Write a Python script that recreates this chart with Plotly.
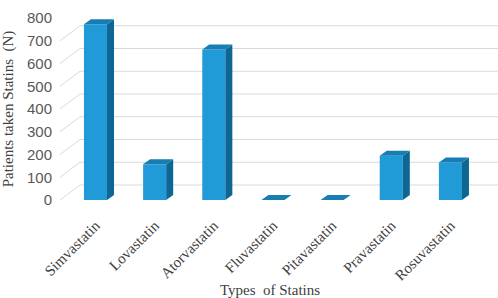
import plotly.graph_objects as go

categories = ["Simvastatin", "Lovastatin", "Atorvastatin", "Fluvastatin",
              "Pitavastatin", "Pravastatin", "Rosuvastatin"]
patients = [773, 157, 662, 0, 0, 195, 165]
y_ticks = [0, 100, 200, 300, 400, 500, 600, 700, 800]

# geometry / style
W, H = 498, 298
ML, MR, MT, MB = 60, 18, 18, 98
XR = [-0.6, 6.5]
YR = [0, 800]
plot_w = W - ML - MR
plot_h = H - MT - MB
px_per_x = plot_w / (XR[1] - XR[0])
px_per_y = plot_h / (YR[1] - YR[0])
BAR_W = 0.39
DX, DY = 7, 5                       # depth offset in pixels
dy_data = DY / px_per_y
bar_px = BAR_W * px_per_x

FRONT = "#209bd8"
SIDE = "#0d6694"
TOP = "#177db3"
GRID = "#d9d9d9"

x_idx = list(range(len(categories)))

fig = go.Figure()
fig.add_trace(go.Bar(
    x=x_idx, y=patients, width=BAR_W,
    marker=dict(color=FRONT, line=dict(width=0)),
    hoverinfo="skip",
))

shapes = []
# perspective gridlines (back wall) + floor diagonals
for t in y_ticks:
    shapes.append(dict(type="line", xref="paper", xsizemode="pixel", xanchor=0,
                       x0=20, x1=460, yref="y", ysizemode="pixel", yanchor=t,
                       y0=15, y1=15, line=dict(color=GRID, width=1), layer="below"))
    shapes.append(dict(type="path", xref="paper", xsizemode="pixel", xanchor=0,
                       yref="y", ysizemode="pixel", yanchor=t,
                       path="M0,0 L20,15", line=dict(color=GRID, width=1), layer="below"))

# 3D faces of bars
for i, v in zip(x_idx, patients):
    shapes.append(dict(
        type="path", xref="x", xsizemode="pixel", xanchor=i + BAR_W / 2, yref="y",
        path=f"M0,0 L0,{v} L{DX},{v + dy_data} L{DX},{dy_data} Z",
        fillcolor=SIDE, line=dict(width=0), layer="above"))
    shapes.append(dict(
        type="path", xref="x", xsizemode="pixel", xanchor=i - BAR_W / 2, yref="y",
        path=(f"M0,{v} L{bar_px:.2f},{v} L{bar_px + DX:.2f},{v + dy_data} "
              f"L{DX},{v + dy_data} Z"),
        fillcolor=TOP, line=dict(width=0), layer="above"))

fig.update_layout(
    width=W, height=H,
    margin=dict(l=ML, r=MR, t=MT, b=MB, pad=0, autoexpand=False),
    paper_bgcolor="white", plot_bgcolor="white",
    showlegend=False,
    shapes=shapes,
    xaxis=dict(
        range=XR, tickmode="array", tickvals=x_idx, ticktext=categories,
        tickangle=-45, showgrid=False, zeroline=False, showline=False,
        automargin=False,
        ticks="outside", ticklen=10, tickcolor="rgba(0,0,0,0)",
        tickfont=dict(family="Liberation Serif", size=15, color="#404040"),
        title=dict(text="Types  of Statins", standoff=6,
                   font=dict(family="Liberation Serif", size=15, color="#404040")),
    ),
    yaxis=dict(
        range=YR, tickmode="array", tickvals=y_ticks,
        showgrid=False, zeroline=False, showline=False,
        automargin=False,
        ticks="outside", ticklen=4, tickcolor="rgba(0,0,0,0)",
        tickfont=dict(family="Liberation Sans", size=15, color="#595959"),
        title=dict(text="Patients taken Statins  (N)", standoff=12,
                   font=dict(family="Liberation Serif", size=15, color="#404040")),
    ),
)

fig.write_html("out.html", config={"displayModeBar": False},
               post_script="document.body.style.margin='0px';")
